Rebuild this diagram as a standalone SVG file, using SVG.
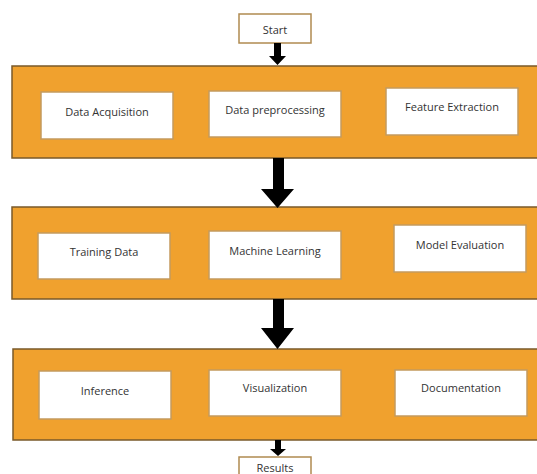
<svg xmlns="http://www.w3.org/2000/svg" width="537" height="474" viewBox="0 0 537 474">
<style>
.band{fill:#F0A12E;stroke:#7A5A2A;stroke-width:1.5}
.box{fill:#ffffff;stroke:#C49A5E;stroke-width:1.5}
.term{fill:#ffffff;stroke:#B08A50;stroke-width:1.5}
.t{font-family:"Open Sans","Liberation Sans",sans-serif;font-size:11px;fill:#333;text-anchor:middle;dominant-baseline:central}
.ar{fill:#000}
</style>
<rect width="537" height="474" fill="#ffffff"/>
<g id="start"><rect class="term" x="239" y="14" width="72" height="29"/><text class="t" x="275" y="29">Start</text></g>
<g id="band1"><rect class="band" x="12" y="66" width="530" height="92"/></g>
<g id="data-acquisition"><rect class="box" x="41" y="92" width="132" height="47"/><text class="t" x="107" y="111">Data Acquisition</text></g>
<g id="data-preprocessing"><rect class="box" x="209" y="91" width="132" height="46"/><text class="t" x="275" y="109">Data preprocessing</text></g>
<g id="feature-extraction"><rect class="box" x="386" y="88" width="132" height="47"/><text class="t" x="452" y="106">Feature Extraction</text></g>
<g id="band2"><rect class="band" x="12" y="207" width="530" height="92"/></g>
<g id="training-data"><rect class="box" x="38" y="233" width="132" height="46"/><text class="t" x="104" y="251">Training Data</text></g>
<g id="machine-learning"><rect class="box" x="209" y="231" width="132" height="48"/><text class="t" x="275" y="250">Machine Learning</text></g>
<g id="model-evaluation"><rect class="box" x="394" y="225" width="132" height="47"/><text class="t" x="460" y="244">Model Evaluation</text></g>
<g id="band3"><rect class="band" x="13" y="349" width="530" height="91"/></g>
<g id="inference"><rect class="box" x="39" y="371" width="132" height="48"/><text class="t" x="105" y="390">Inference</text></g>
<g id="visualization"><rect class="box" x="209" y="370" width="132" height="46"/><text class="t" x="275" y="387">Visualization</text></g>
<g id="documentation"><rect class="box" x="395" y="370" width="132" height="46"/><text class="t" x="461" y="387">Documentation</text></g>
<g id="results"><rect class="term" x="239" y="457" width="72" height="24"/><text class="t" x="275" y="467">Results</text></g>
<g id="connectors">
<polygon class="ar" points="274,43 281,43 281,56 286,56 277.5,65 269,56 274,56"/>
<polygon class="ar" points="273,158 284,158 284,189 294,189 277.5,208 261,189 273,189"/>
<polygon class="ar" points="273,299 284,299 284,328 294,328 277.5,349 261,328 273,328"/>
<polygon class="ar" points="275,440 281,440 281,449 286,449 278,456 270,449 275,449"/>
</g>
</svg>
